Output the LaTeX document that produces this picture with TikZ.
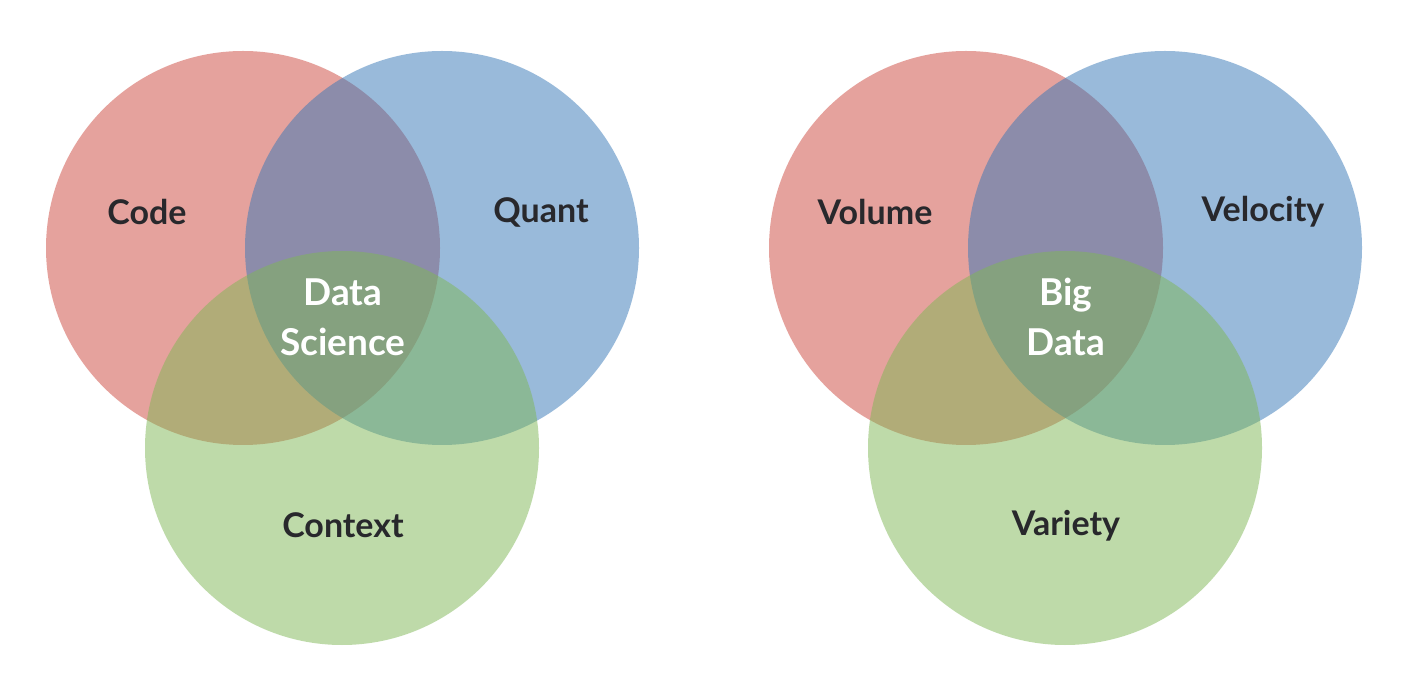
\documentclass[tikz,border=0pt]{standalone}
\usepackage{fontspec}
\setmainfont{Lato}[UprightFont=* Bold]
\definecolor{cred}{RGB}{205,71,61}
\definecolor{cblue}{RGB}{53,119,183}
\definecolor{cgreen}{RGB}{127,183,85}
\definecolor{ctext}{RGB}{40,40,44}
\tikzset{
  venn/.style={circle, minimum size=197pt, inner sep=0pt, draw=none, fill opacity=0.5},
  lbl/.style={font=\fontsize{17}{25}\selectfont, text=ctext, align=center},
  mid/.style={font=\fontsize{18.5}{25}\selectfont, text=white, align=center},
}
\begin{document}
\begin{tikzpicture}[x=0.5pt,y=-0.5pt]
\useasboundingbox (0,0) rectangle (1412,694);
\fill[white] (0,0) rectangle (1412,694);
% left diagram
\node[venn, fill=cred] (code) at (243,248) {};
\node[venn, fill=cblue] (quant) at (442,248) {};
\node[venn, fill=cgreen] (context) at (342,448) {};
\node[lbl] (tcode) at (147,212) {Code};
\node[lbl] (tquant) at (541,212) {Quant};
\node[lbl] (tcontext) at (343,525) {Context};
\node[mid] (tds) at (343,317) {Data\\Science};
% right diagram
\node[venn, fill=cred] (volume) at (966,248) {};
\node[venn, fill=cblue] (velocity) at (1165,248) {};
\node[venn, fill=cgreen] (variety) at (1065,448) {};
\node[lbl] (tvolume) at (875,212) {Volume};
\node[lbl] (tvelocity) at (1263,212) {Velocity};
\node[lbl] (tvariety) at (1066,526) {Variety};
\node[mid] (tbd) at (1066,317) {Big\\Data};
\end{tikzpicture}
\end{document}
